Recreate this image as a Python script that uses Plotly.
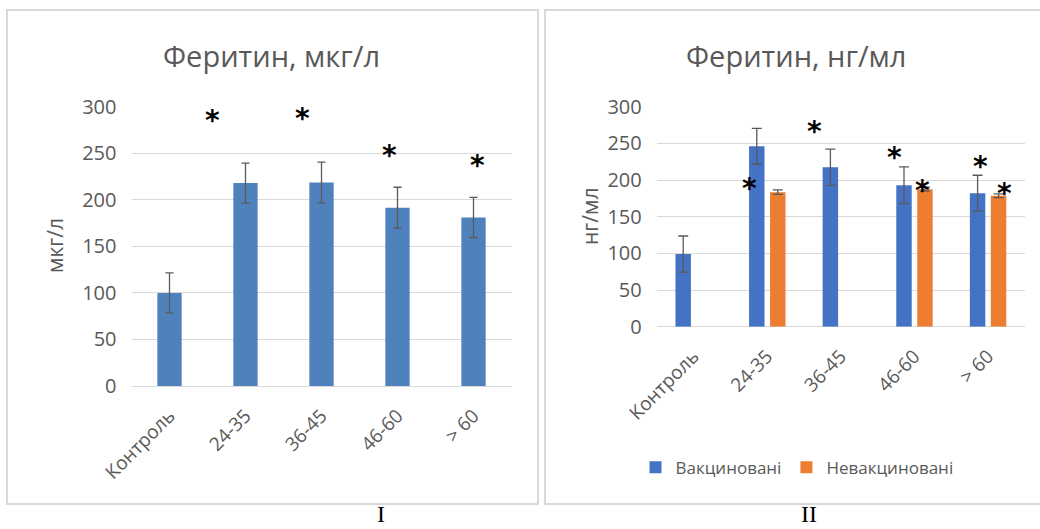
import plotly.graph_objects as go

# ---------------- data ----------------
categories = ["Контроль", "24-35", "36-45", "46-60", "> 60"]
y_ticks = [0, 50, 100, 150, 200, 250, 300]

# Panel I: Феритин, мкг/л
ferritin_I = [100, 218, 218.5, 191.5, 181]
ferritin_I_err = [21.5, 21.5, 22, 22, 21.5]
stars_I_x = [0.57, 1.75, 2.90, 4.05]
stars_I_y = [293, 295, 255, 244]

# Panel II: Феритин, нг/мл
vacc = [99, 246, 217.5, 193, 182]
vacc_err = [24.7, 24.5, 24.7, 25, 24.5]
unvacc = [None, 183.5, None, 187.5, 178.5]
unvacc_err = [0, 3, 0, 2.7, 2.5]
stars_II_x = [0.41, 0.76, 1.64, 2.73, 3.11, 3.90, 4.22]
stars_II_y = [311.5, 197.7, 276.4, 239.6, 195.5, 228.3, 191]

# ---------------- styles ----------------
W, H = 1040, 529
FONT = "Open Sans"
GREY = "#595959"
GRID = "#d9d9d9"
ERR = "#5a5a5a"


def px_x(p):
    return p / W


def px_y(p):
    return 1 - p / H


fig = go.Figure()

fig.add_trace(go.Bar(
    x=categories, y=ferritin_I, width=0.32,
    marker=dict(color="#4f81bd", line=dict(width=0)),
    error_y=dict(type="data", array=ferritin_I_err, color=ERR, thickness=1.3, width=4),
    xaxis="x", yaxis="y", showlegend=False,
))

fig.add_trace(go.Bar(
    x=categories, y=vacc, name="Вакциновані", width=0.21, offset=-0.245,
    marker=dict(color="#4472c4", line=dict(width=0)),
    error_y=dict(type="data", array=vacc_err, color=ERR, thickness=1.3, width=5),
    xaxis="x2", yaxis="y2",
))
fig.add_trace(go.Bar(
    x=categories, y=unvacc, name="Невакциновані", width=0.21, offset=0.04,
    marker=dict(color="#ed7d31", line=dict(width=0)),
    error_y=dict(type="data", array=unvacc_err, color=ERR, thickness=1.3, width=5),
    xaxis="x2", yaxis="y2",
))

axis_common_x = dict(
    type="category", range=[-0.5, 4.5], showgrid=False, showline=False,
    zeroline=False, tickangle=-45, ticks="", automargin=False,
    tickfont=dict(family=FONT, size=19, color=GREY), ticklabelstandoff=14,
)
axis_common_y = dict(
    range=[0, 300], tickvals=y_ticks, showgrid=True, gridcolor=GRID, gridwidth=1,
    zeroline=True, zerolinecolor=GRID, zerolinewidth=1, showline=False, ticks="",
    automargin=False,
    tickfont=dict(family=FONT, size=20, color=GREY), ticklabelstandoff=14,
)

fig.update_layout(
    width=W, height=H,
    margin=dict(l=0, r=0, t=0, b=0, autoexpand=False),
    paper_bgcolor="white", plot_bgcolor="white",
    barmode="overlay",
    xaxis=dict(domain=[px_x(131.5), px_x(511.5)], anchor="y", **axis_common_x),
    yaxis=dict(domain=[px_y(386), px_y(106.7)], anchor="x", **axis_common_y),
    xaxis2=dict(domain=[px_x(656.7), px_x(1024.7)], anchor="y2", **axis_common_x),
    yaxis2=dict(domain=[px_y(326.7), px_y(106.7)], anchor="x2", **axis_common_y),
    legend=dict(
        orientation="h", x=px_x(797), xanchor="center", y=px_y(467.7), yanchor="middle",
        font=dict(family=FONT, size=17, color=GREY), itemwidth=30,
        bgcolor="rgba(0,0,0,0)",
    ),
    showlegend=True,
)

# panel frames
fig.add_shape(type="rect", xref="paper", yref="paper",
              x0=px_x(7), x1=px_x(538), y0=px_y(504), y1=px_y(10),
              line=dict(color=GRID, width=2), layer="below")
fig.add_shape(type="rect", xref="paper", yref="paper",
              x0=px_x(545), x1=px_x(1050), y0=px_y(504), y1=px_y(10),
              line=dict(color=GRID, width=2), layer="below")

annotations = []
# titles
annotations.append(dict(text="Феритин, мкг/л", x=px_x(271), y=px_y(55), xref="paper", yref="paper",
                        showarrow=False, xanchor="center", yanchor="middle",
                        font=dict(family=FONT, size=29, color=GREY)))
annotations.append(dict(text="Феритин, нг/мл", x=px_x(796), y=px_y(55), xref="paper", yref="paper",
                        showarrow=False, xanchor="center", yanchor="middle",
                        font=dict(family=FONT, size=29, color=GREY)))
# y-axis titles
annotations.append(dict(text="мкг/л", x=px_x(55), y=px_y(246), xref="paper", yref="paper",
                        showarrow=False, xanchor="center", yanchor="middle", textangle=-90,
                        font=dict(family=FONT, size=21, color=GREY)))
annotations.append(dict(text="нг/мл", x=px_x(590), y=px_y(217), xref="paper", yref="paper",
                        showarrow=False, xanchor="center", yanchor="middle", textangle=-90,
                        font=dict(family=FONT, size=21, color=GREY)))
# panel numerals
annotations.append(dict(text="I", x=px_x(381), y=0, xref="paper", yref="paper",
                        showarrow=False, xanchor="center", yanchor="bottom",
                        font=dict(family="Liberation Serif", size=24, color="black")))
annotations.append(dict(text="II", x=px_x(809), y=0, xref="paper", yref="paper",
                        showarrow=False, xanchor="center", yanchor="bottom",
                        font=dict(family="Liberation Serif", size=24, color="black")))

# significance stars
for sx, sy in zip(stars_I_x, stars_I_y):
    annotations.append(dict(text="<b>*</b>", x=sx, y=sy, xref="x", yref="y", showarrow=False,
                            xanchor="center", yanchor="middle", yshift=-7,
                            font=dict(family="DejaVu Sans", size=28, color="black")))
for sx, sy in zip(stars_II_x, stars_II_y):
    annotations.append(dict(text="<b>*</b>", x=sx, y=sy, xref="x2", yref="y2", showarrow=False,
                            xanchor="center", yanchor="middle", yshift=-7,
                            font=dict(family="DejaVu Sans", size=28, color="black")))

fig.update_layout(annotations=annotations)

fig.write_html("out.html")
